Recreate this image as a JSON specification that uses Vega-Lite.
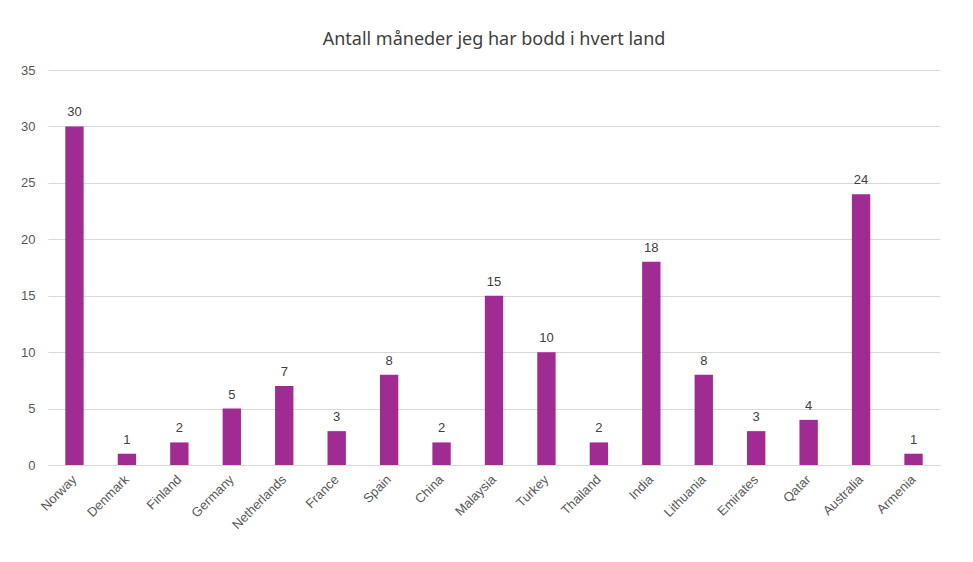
{
  "$schema": "https://vega.github.io/schema/vega-lite/v6.json",
  "width": 892,
  "height": 395,
  "autosize": "none",
  "padding": {"left": 48, "top": 70, "right": 33, "bottom": 97},
  "background": "white",
  "title": {
    "text": "Antall måneder jeg har bodd i hvert land",
    "font": "Noto Sans",
    "fontSize": 18,
    "fontWeight": "normal",
    "color": "#404040",
    "offset": 15,
    "anchor": "middle"
  },
  "config": {
    "view": {"stroke": null},
    "font": "Liberation Sans"
  },
  "data": {
    "values": [
      {"land": "Norway", "maaneder": 30},
      {"land": "Denmark", "maaneder": 1},
      {"land": "Finland", "maaneder": 2},
      {"land": "Germany", "maaneder": 5},
      {"land": "Netherlands", "maaneder": 7},
      {"land": "France", "maaneder": 3},
      {"land": "Spain", "maaneder": 8},
      {"land": "China", "maaneder": 2},
      {"land": "Malaysia", "maaneder": 15},
      {"land": "Turkey", "maaneder": 10},
      {"land": "Thailand", "maaneder": 2},
      {"land": "India", "maaneder": 18},
      {"land": "Lithuania", "maaneder": 8},
      {"land": "Emirates", "maaneder": 3},
      {"land": "Qatar", "maaneder": 4},
      {"land": "Australia", "maaneder": 24},
      {"land": "Armenia", "maaneder": 1}
    ]
  },
  "encoding": {
    "x": {
      "field": "land",
      "type": "nominal",
      "sort": null,
      "scale": {"paddingInner": 0.65, "paddingOuter": 0.33},
      "axis": {
        "title": null,
        "labelAngle": -45,
        "labelAlign": "right",
        "labelBaseline": "middle",
        "labelFontSize": 13,
        "labelColor": "#595959",
        "labelPadding": 12,
        "ticks": false,
        "domainColor": "#d9d9d9",
        "domainWidth": 1
      }
    },
    "y": {
      "field": "maaneder",
      "type": "quantitative",
      "scale": {"domain": [0, 35]},
      "axis": {
        "title": null,
        "values": [0, 5, 10, 15, 20, 25, 30, 35],
        "labelFontSize": 13,
        "labelColor": "#595959",
        "labelPadding": 13,
        "ticks": false,
        "domain": false,
        "gridColor": "#d9d9d9",
        "gridWidth": 1
      }
    }
  },
  "layer": [
    {"mark": {"type": "bar", "color": "#A02B93"}},
    {
      "mark": {"type": "text", "dy": -7, "baseline": "bottom", "fontSize": 13, "color": "#404040"},
      "encoding": {"text": {"field": "maaneder", "type": "quantitative"}}
    }
  ]
}
